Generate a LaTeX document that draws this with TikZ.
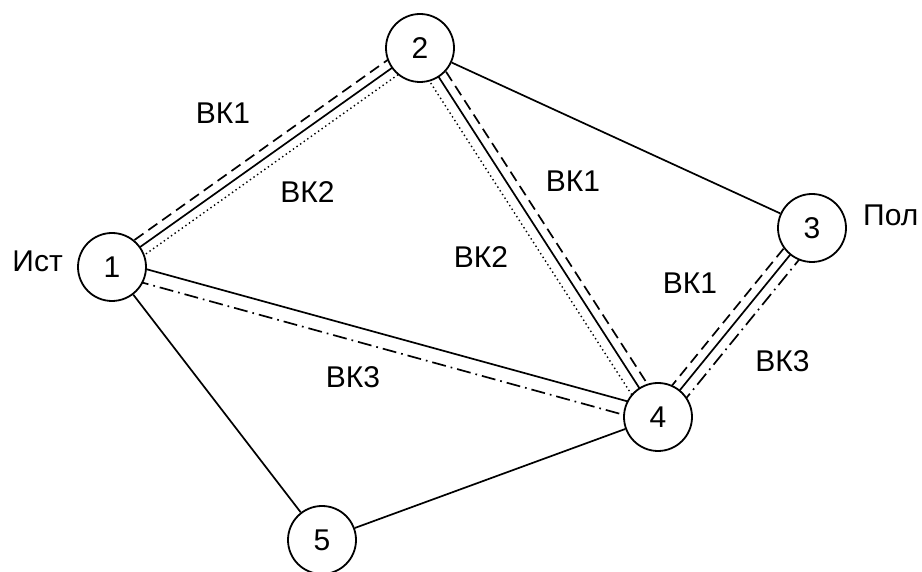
\documentclass[tikz,border=0pt]{standalone}
\usepackage{fontspec}
\setmainfont{Liberation Sans}
\usetikzlibrary{calc,backgrounds}
\newcommand\parline[4]{\draw[#4] ($(#1)!#3!90:(#2)$) -- ($(#2)!#3!-90:(#1)$);}
\begin{document}
\begin{tikzpicture}[x=1pt,y=1pt,
  vert/.style={circle,draw,line width=1.8pt,minimum size=68pt,inner sep=0pt,fill=white,font=\fontsize{30}{36}\selectfont},
  lbl/.style={inner sep=0pt,font=\fontsize{30}{36}\selectfont},
  solidline/.style={line width=1.7pt},
  dashedline/.style={line width=1.7pt,dash pattern=on 11pt off 6pt},
  dottedline/.style={line width=1.4pt,dash pattern=on 1.4pt off 3pt},
  dashdotline/.style={line width=1.7pt,dash pattern=on 14pt off 5pt on 1.7pt off 5pt}]
\useasboundingbox (0,0) rectangle (922,572);
\node[vert] (n1) at (112,305) {1};
\node[vert] (n2) at (420,524) {2};
\node[vert] (n3) at (812,344) {3};
\node[vert] (n4) at (658,155) {4};
\node[vert] (n5) at (322,32) {5};
\node[lbl,anchor=east] (ist) at (63,311) {Ист};
\node[lbl,anchor=west] (pol) at (863,357) {Пол};
\node[lbl] (l1a) at (223,458.5) {ВК1};
\node[lbl] (l2a) at (307.5,379.5) {ВК2};
\node[lbl] (l1b) at (573,391) {ВК1};
\node[lbl] (l2b) at (481,315) {ВК2};
\node[lbl] (l1c) at (690,288.5) {ВК1};
\node[lbl] (l3a) at (782.5,211) {ВК3};
\node[lbl] (l3b) at (353,194.5) {ВК3};
\begin{pgfonlayer}{background}
  % 1-2
  \parline{n1}{n2}{0pt}{solidline}
  \parline{n1}{n2}{9pt}{dashedline}
  \parline{n1}{n2}{-9pt}{dottedline}
  % 2-4
  \parline{n2}{n4}{0pt}{solidline}
  \parline{n2}{n4}{9pt}{dashedline}
  \parline{n2}{n4}{-10pt}{dottedline}
  % 3-4
  \parline{n3}{n4}{0pt}{solidline}
  \parline{n3}{n4}{-9pt}{dashedline}
  \parline{n3}{n4}{10pt}{dashdotline}
  % 1-4
  \parline{n1}{n4}{7pt}{solidline}
  \parline{n1}{n4}{-7pt}{dashdotline}
  % single
  \draw[solidline] (n2) -- (n3);
  \draw[solidline] (n1) -- (n5);
  \draw[solidline] (n5) -- (n4);
\end{pgfonlayer}
\end{tikzpicture}
\end{document}
